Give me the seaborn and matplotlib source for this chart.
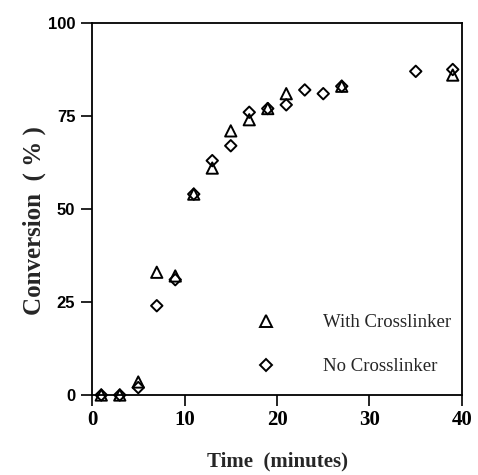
import matplotlib
matplotlib.use("Agg")
import matplotlib.pyplot as plt
import seaborn as sns
import pandas as pd
from matplotlib.lines import Line2D

# Data
with_time = [1, 3, 5, 7, 9, 11, 13, 15, 17, 19, 21, 27, 39]
with_conv = [0, 0, 3.5, 33, 32, 54, 61, 71, 74, 77, 81, 83, 86]
no_time = [1, 3, 5, 7, 9, 11, 13, 15, 17, 19, 21, 23, 25, 27, 35, 39]
no_conv = [0, 0, 2, 24, 31, 54, 63, 67, 76, 77, 78, 82, 81, 83, 87, 87.5]
series_labels = ["With Crosslinker", "No Crosslinker"]
x_ticks = [0, 10, 20, 30, 40]
y_ticks = [0, 25, 50, 75, 100]

df_with = pd.DataFrame({"Time": with_time, "Conversion": with_conv, "Series": series_labels[0]})
df_no = pd.DataFrame({"Time": no_time, "Conversion": no_conv, "Series": series_labels[1]})

sns.set_style("ticks")
fig = plt.figure(figsize=(4.78, 4.75), dpi=100)
ax = fig.add_axes([0.1925, 0.1684, 0.7740, 0.7832])

sns.scatterplot(data=df_no, x="Time", y="Conversion", marker="D", s=34,
                facecolor="none", edgecolor="black", linewidth=1.4, ax=ax,
                legend=False, clip_on=False, zorder=3)
sns.scatterplot(data=df_with, x="Time", y="Conversion", marker="^", s=66,
                facecolor="none", edgecolor="black", linewidth=1.4, ax=ax,
                legend=False, clip_on=False, zorder=3)

ax.set_xlim(0, 40)
ax.set_ylim(0, 100)
ax.set_xticks(x_ticks)
ax.set_yticks(y_ticks)
for s in ax.spines.values():
    s.set_visible(True)
    s.set_linewidth(1.3)
    s.set_color("black")
ax.tick_params(axis="both", direction="out", length=8, width=1.2, colors="black")
ax.tick_params(axis="x", pad=3)
ax.tick_params(axis="y", pad=4)
for lab in ax.get_xticklabels():
    lab.set_fontfamily("Liberation Serif")
    lab.set_fontweight("bold")
    lab.set_fontsize(15)
for lab in ax.get_yticklabels():
    lab.set_fontfamily("Liberation Sans")
    lab.set_fontweight("bold")
    lab.set_fontsize(12)

ax.set_xlabel("Time  (minutes)", fontfamily="Liberation Serif", fontweight="bold",
              fontsize=15)
ax.set_ylabel("Conversion  ( % )", fontfamily="Liberation Serif", fontweight="bold",
              fontsize=18)
ax.xaxis.set_label_coords(0.5, -0.153)
ax.yaxis.set_label_coords(-0.125, 0.47)

handles = [
    Line2D([], [], linestyle="none", marker="^", markersize=8, markerfacecolor="none",
           markeredgecolor="black", markeredgewidth=1.4),
    Line2D([], [], linestyle="none", marker="D", markersize=5.8, markerfacecolor="none",
           markeredgecolor="black", markeredgewidth=1.4),
]
ax.legend(handles, series_labels, loc="upper left", bbox_to_anchor=(0.375, 0.263),
          frameon=False, handletextpad=2.0, labelspacing=1.45,
          prop={"family": "Liberation Serif", "size": 13.5})

fig.savefig("out.png", dpi=100)
